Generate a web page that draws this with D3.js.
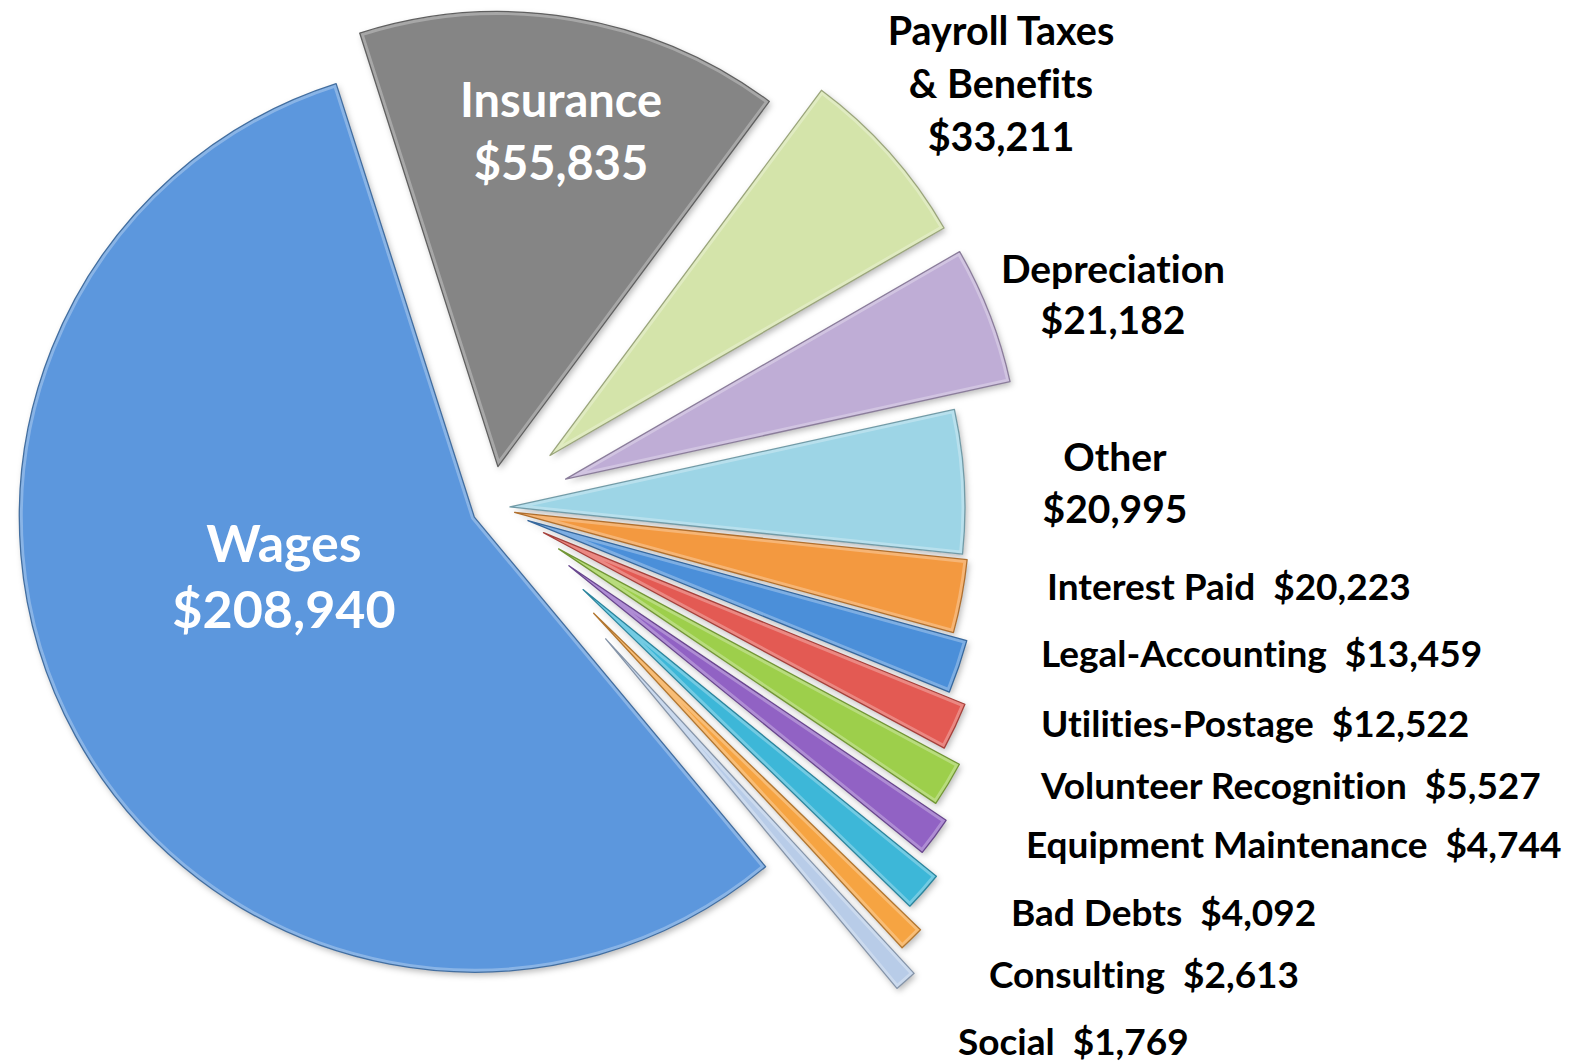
<!DOCTYPE html>
<html><head><meta charset="utf-8">
<script src="https://cdn.jsdelivr.net/npm/d3@7"></script>
<style>
html,body{margin:0;padding:0;background:#fff;}
svg{display:block;}
text{font-family:Lato,"Open Sans",sans-serif;font-weight:700;white-space:pre;font-variant-ligatures:none;font-feature-settings:"liga" 0,"clig" 0;}
</style></head><body>
<svg id="chart" width="1585" height="1063"></svg>
<script>
// ---- data ----
const categories = ["Wages", "Insurance", "Payroll Taxes & Benefits", "Depreciation", "Other",
  "Interest Paid", "Legal-Accounting", "Utilities-Postage", "Volunteer Recognition",
  "Equipment Maintenance", "Bad Debts", "Consulting", "Social"];
const amounts = [208940, 55835, 33211, 21182, 20995, 20223, 13459, 12522, 5527, 4744, 4092, 2613, 1769];
// share of the circle each slice occupies as drawn in the picture (percent)
const sliceShares = [56.2, 15.1, 6.5, 4.9, 5.1, 2.6, 1.9, 1.7, 1.6, 1.4, 1.4, 0.9, 0.8];
const sliceColors = ["#5b97dd", "#858585", "#d4e4aa", "#bfadd6", "#9dd5e6", "#f3993f", "#4c8fd9",
  "#e35a52", "#9dcf4b", "#9162c4", "#3db7d8", "#f6a443", "#b8cce8"];

// ---- layout / style ----
const W = 1585, H = 1063;
const cx = 491, cy = 508, R = 455;
const startDeg = 140.2;
const explode = [19, 42, 79, 80, 19, 24, 39, 58, 79, 97, 123, 147, 174];
const labelLayout = [
  {x: 284, y: 562, size: 52, lh: 66, anchor: "middle", fill: "#fff", mode: "stack"},
  {x: 561, y: 117, size: 47, lh: 63, anchor: "middle", fill: "#fff", mode: "stack"},
  {x: 1001, y: 45, size: 39.5, lh: 53, anchor: "middle", fill: "#000", mode: "stack", breakAt: " & "},
  {x: 1113, y: 283, size: 39, lh: 51, anchor: "middle", fill: "#000", mode: "stack"},
  {x: 1115, y: 471, size: 39, lh: 52, anchor: "middle", fill: "#000", mode: "stack"},
  {x: 1047, y: 600, size: 37, anchor: "start", fill: "#000", mode: "inline"},
  {x: 1041, y: 667, size: 37, anchor: "start", fill: "#000", mode: "inline"},
  {x: 1041, y: 737, size: 37, anchor: "start", fill: "#000", mode: "inline"},
  {x: 1041, y: 799, size: 37, anchor: "start", fill: "#000", mode: "inline"},
  {x: 1026, y: 858, size: 37, anchor: "start", fill: "#000", mode: "inline"},
  {x: 1011, y: 926, size: 37, anchor: "start", fill: "#000", mode: "inline"},
  {x: 989, y: 988, size: 37, anchor: "start", fill: "#000", mode: "inline"},
  {x: 958, y: 1055, size: 37, anchor: "start", fill: "#000", mode: "inline"}
];

const fmt = d3.format("$,");
const svg = d3.select("#chart");
const defs = svg.append("defs");
const flt = defs.append("filter").attr("id", "shadow")
  .attr("x", "-20%").attr("y", "-20%").attr("width", "140%").attr("height", "140%");
flt.append("feDropShadow").attr("dx", 2).attr("dy", 3).attr("stdDeviation", 3)
  .attr("flood-color", "#000").attr("flood-opacity", 0.28);

const slices = categories.map((c, i) => ({name: c, amount: amounts[i], share: sliceShares[i], color: sliceColors[i], i}));
const start = startDeg * Math.PI / 180;
const pie = d3.pie().sort(null).value(d => d.share).startAngle(start).endAngle(start + 2 * Math.PI);
const arc = d3.arc().innerRadius(0).outerRadius(R);
const arcs = pie(slices);

const g = svg.append("g").attr("transform", `translate(${cx},${cy})`);
const sg = g.selectAll("g.slice").data(arcs).join("g").attr("class", "slice")
  .attr("transform", d => {
    const m = (d.startAngle + d.endAngle) / 2, e = explode[d.data.i];
    return `translate(${e * Math.sin(m)},${-e * Math.cos(m)})`;
  });
sg.each(function(d) {
  const id = "clip" + d.data.i;
  defs.append("clipPath").attr("id", id).append("path").attr("d", arc(d));
  const s = d3.select(this);
  s.append("path").attr("d", arc(d)).attr("fill", d.data.color).attr("filter", "url(#shadow)");
  s.append("path").attr("d", arc(d)).attr("fill", "none").attr("clip-path", `url(#${id})`)
    .attr("stroke", "#fff").attr("stroke-opacity", 0.28).attr("stroke-width", 7);
  s.append("path").attr("d", arc(d)).attr("fill", "none")
    .attr("stroke", d3.color(d.data.color).darker(0.9)).attr("stroke-width", 1.3).attr("stroke-linejoin", "round");
});

// ---- labels ----
const lg = svg.append("g");
slices.forEach((d, i) => {
  const L = labelLayout[i];
  let lines;
  if (L.mode === "inline") lines = [d.name + "  " + fmt(d.amount)];
  else if (L.breakAt) {
    const k = d.name.indexOf(L.breakAt);
    lines = [d.name.slice(0, k), d.name.slice(k + 1), fmt(d.amount)];
  } else lines = [d.name, fmt(d.amount)];
  const t = lg.append("text").attr("text-anchor", L.anchor).attr("fill", L.fill)
    .style("font-size", L.size + "px");
  lines.forEach((ln, j) => t.append("tspan").attr("x", L.x).attr("y", L.y + j * (L.lh || 0)).text(ln));
});
</script>
</body></html>
